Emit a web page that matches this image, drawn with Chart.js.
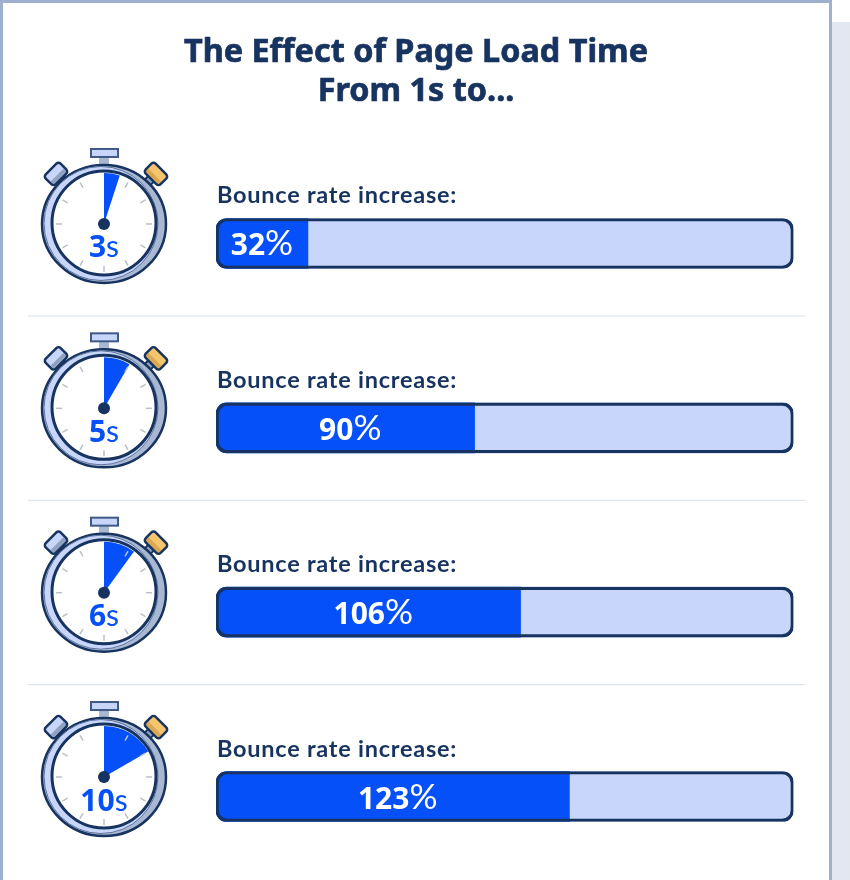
<!DOCTYPE html>
<html>
<head>
<meta charset="utf-8">
<title>The Effect of Page Load Time</title>
<script src="https://cdn.jsdelivr.net/npm/chart.js@4/dist/chart.umd.min.js"></script>
<style>
    html, body { margin: 0; padding: 0; background: #fff; overflow: hidden; }
    canvas { display: block; }
</style>
</head>
<body>
<canvas id="bounceChart" width="850" height="900"></canvas>
<script>
const titleLines = ['The Effect of Page Load Time', 'From 1s to...'];
const barCaption = 'Bounce rate increase:';
const loadTimes = ['3s', '5s', '6s', '10s'];
const stopwatchSeconds = [3, 5, 6, 10];
const bounceIncrease = [32, 90, 106, 123];
const trackValues = [201, 201, 201, 201];

const NAVY = '#17335f';
const BLUE = '#0550f8';
const PALE = '#c9d6fb';

function drawFrame(ctx) {
    ctx.fillStyle = '#e3e7f0';
    ctx.fillRect(832, 22, 18, 878);
    ctx.fillStyle = '#9fb0cf';
    ctx.fillRect(829, 0, 3, 900);
    ctx.fillRect(0, 0, 831, 3);
    ctx.fillRect(0, 0, 3, 900);
}

function drawButton(ctx, x, y, angle, cap, band) {
    ctx.save();
    ctx.translate(x, y);
    ctx.rotate(angle);
    ctx.fillStyle = '#8fa2c0';
    ctx.strokeStyle = NAVY;
    ctx.lineWidth = 2;
    ctx.fillRect(-4, 6, 8, 9);
    ctx.strokeRect(-4, 6, 8, 9);
    ctx.lineWidth = 2.5;
    ctx.fillStyle = cap;
    ctx.beginPath();
    ctx.roundRect(-10.5, -7, 21, 14, 3);
    ctx.fill();
    ctx.fillStyle = band;
    ctx.fillRect(-9, 1.5, 18, 4);
    ctx.stroke();
    ctx.restore();
}

function drawStopwatch(ctx, cx, cy, seconds, label) {
    // crown and side buttons
    ctx.fillStyle = '#a9b8d2';
    ctx.fillRect(cx - 5, cy - 68, 10, 10);
    ctx.fillStyle = PALE;
    ctx.strokeStyle = '#3f5a86';
    ctx.lineWidth = 2;
    ctx.fillRect(cx - 13, cy - 75, 27, 8);
    ctx.strokeRect(cx - 13, cy - 75, 27, 8);
    drawButton(ctx, cx - 48, cy - 50, -Math.PI / 4, PALE, '#8fa2c0');
    drawButton(ctx, cx + 52, cy - 50, Math.PI / 4, '#f5c56e', '#d9a850');

    // case, shaded on the right
    ctx.strokeStyle = NAVY;
    ctx.lineWidth = 2.5;
    ctx.fillStyle = '#a9b8d2';
    ctx.beginPath();
    ctx.ellipse(cx, cy, 62, 59, 0, 0, Math.PI * 2);
    ctx.fill();
    ctx.stroke();
    ctx.lineWidth = 1;
    ctx.strokeStyle = '#5c749c';
    ctx.fillStyle = PALE;
    ctx.beginPath();
    ctx.ellipse(cx - 3, cy - 0.5, 57, 57, 0, 0, Math.PI * 2);
    ctx.fill();
    ctx.stroke();

    // face
    ctx.strokeStyle = NAVY;
    ctx.lineWidth = 3;
    ctx.fillStyle = '#fff';
    ctx.beginPath();
    ctx.arc(cx, cy - 1, 52, 0, Math.PI * 2);
    ctx.fill();
    ctx.stroke();

    // elapsed wedge, one turn is 60 seconds
    const start = -Math.PI / 2;
    ctx.fillStyle = BLUE;
    ctx.beginPath();
    ctx.moveTo(cx, cy);
    ctx.arc(cx, cy, 51, start, start + seconds / 60 * Math.PI * 2);
    ctx.closePath();
    ctx.fill();

    // tick marks
    ctx.strokeStyle = '#b8c0cc';
    ctx.lineWidth = 1.5;
    for (let i = 1; i < 12; i++) {
        const a = i * Math.PI / 6 - Math.PI / 2;
        ctx.beginPath();
        ctx.moveTo(cx + Math.cos(a) * 42, cy + Math.sin(a) * 42);
        ctx.lineTo(cx + Math.cos(a) * 48, cy + Math.sin(a) * 48);
        ctx.stroke();
    }

    ctx.fillStyle = NAVY;
    ctx.beginPath();
    ctx.arc(cx, cy, 6, 0, Math.PI * 2);
    ctx.fill();

    // label, number bold and unit regular
    const digits = label.slice(0, -1);
    const unit = label.slice(-1);
    ctx.textBaseline = 'alphabetic';
    ctx.textAlign = 'left';
    ctx.font = 'bold 30px "Open Sans"';
    const w1 = ctx.measureText(digits).width;
    ctx.font = '30px Lato';
    const w2 = ctx.measureText(unit).width;
    const x0 = cx - (w1 + w2) / 2;
    ctx.fillStyle = BLUE;
    ctx.font = 'bold 30px "Open Sans"';
    ctx.fillText(digits, x0, cy + 33.5);
    ctx.font = '30px Lato';
    ctx.fillText(unit, x0 + w1, cy + 33.5);
}

const pagePlugin = {
    id: 'pagePlugin',
    beforeDraw(chart) {
        const ctx = chart.ctx;
        const y = chart.scales.y;
        ctx.save();
        drawFrame(ctx);

        ctx.fillStyle = NAVY;
        ctx.strokeStyle = NAVY;
        ctx.lineWidth = 0.7;
        ctx.textAlign = 'center';
        ctx.textBaseline = 'alphabetic';
        ctx.font = 'bold 32.4px "Noto Sans"';
        titleLines.forEach((line, i) => {
            ctx.fillText(line, 416, 62 + i * 39);
            ctx.strokeText(line, 416, 62 + i * 39);
        });

        loadTimes.forEach((label, i) => {
            const cy = y.getPixelForValue(i);
            ctx.textAlign = 'left';
            ctx.fillStyle = NAVY;
            ctx.font = 'bold 23.5px Lato';
            ctx.letterSpacing = '0.75px';
            ctx.fillText(barCaption, 217, cy - 40);
            ctx.letterSpacing = '0px';
            if (i < loadTimes.length - 1) {
                ctx.strokeStyle = '#d5dfe8';
                ctx.lineWidth = 1;
                ctx.beginPath();
                ctx.moveTo(28, cy + 72.5);
                ctx.lineTo(805, cy + 72.5);
                ctx.stroke();
            }
            drawStopwatch(ctx, 104, cy - 19.5, stopwatchSeconds[i], label);
        });
        ctx.restore();
    },
    afterDatasetsDraw(chart) {
        const ctx = chart.ctx;
        const bars = chart.getDatasetMeta(1).data;
        ctx.save();
        ctx.fillStyle = '#fff';
        ctx.textBaseline = 'alphabetic';
        ctx.textAlign = 'left';
        bounceIncrease.forEach((value, i) => {
            const bar = bars[i];
            const mid = (bar.base + bar.x) / 2 + (i === 0 ? 0 : 5);
            const digits = String(value);
            ctx.font = 'bold 30px "Open Sans"';
            const w1 = ctx.measureText(digits).width;
            ctx.font = '35px Lato';
            const w2 = ctx.measureText('%').width;
            ctx.font = 'bold 30px "Open Sans"';
            ctx.fillText(digits, mid - (w1 + w2) / 2, bar.y + 12);
            ctx.font = '35px Lato';
            ctx.fillText('%', mid - (w1 + w2) / 2 + w1, bar.y + 12);
        });
        ctx.restore();
    }
};

new Chart(document.getElementById('bounceChart').getContext('2d'), {
    type: 'bar',
    data: {
        labels: loadTimes,
        datasets: [{
            label: 'Track',
            data: trackValues,
            backgroundColor: PALE,
            borderWidth: 0,
            borderRadius: 11,
            borderSkipped: false,
            barThickness: 50,
            grouped: false,
            order: 3
        }, {
            label: 'Bounce rate increase',
            data: bounceIncrease,
            backgroundColor: BLUE,
            borderWidth: 0,
            borderSkipped: false,
            borderRadius: { topLeft: 11, bottomLeft: 11, topRight: 0, bottomRight: 0 },
            barThickness: 50,
            grouped: false,
            order: 2
        }, {
            label: 'Outline',
            data: trackValues,
            backgroundColor: 'rgba(0, 0, 0, 0)',
            borderColor: NAVY,
            borderWidth: 2.5,
            borderSkipped: false,
            borderRadius: 11,
            barThickness: 50,
            grouped: false,
            order: 1
        }]
    },
    options: {
        indexAxis: 'y',
        responsive: false,
        devicePixelRatio: 1,
        animation: false,
        layout: {
            padding: { left: 216, right: 56.5, top: 151.3, bottom: 11.3 }
        },
        scales: {
            x: { display: false, min: 0, max: 201 },
            y: { display: false }
        },
        plugins: {
            legend: { display: false },
            title: { display: false },
            tooltip: { enabled: false }
        }
    },
    plugins: [pagePlugin]
});
</script>
</body>
</html>
